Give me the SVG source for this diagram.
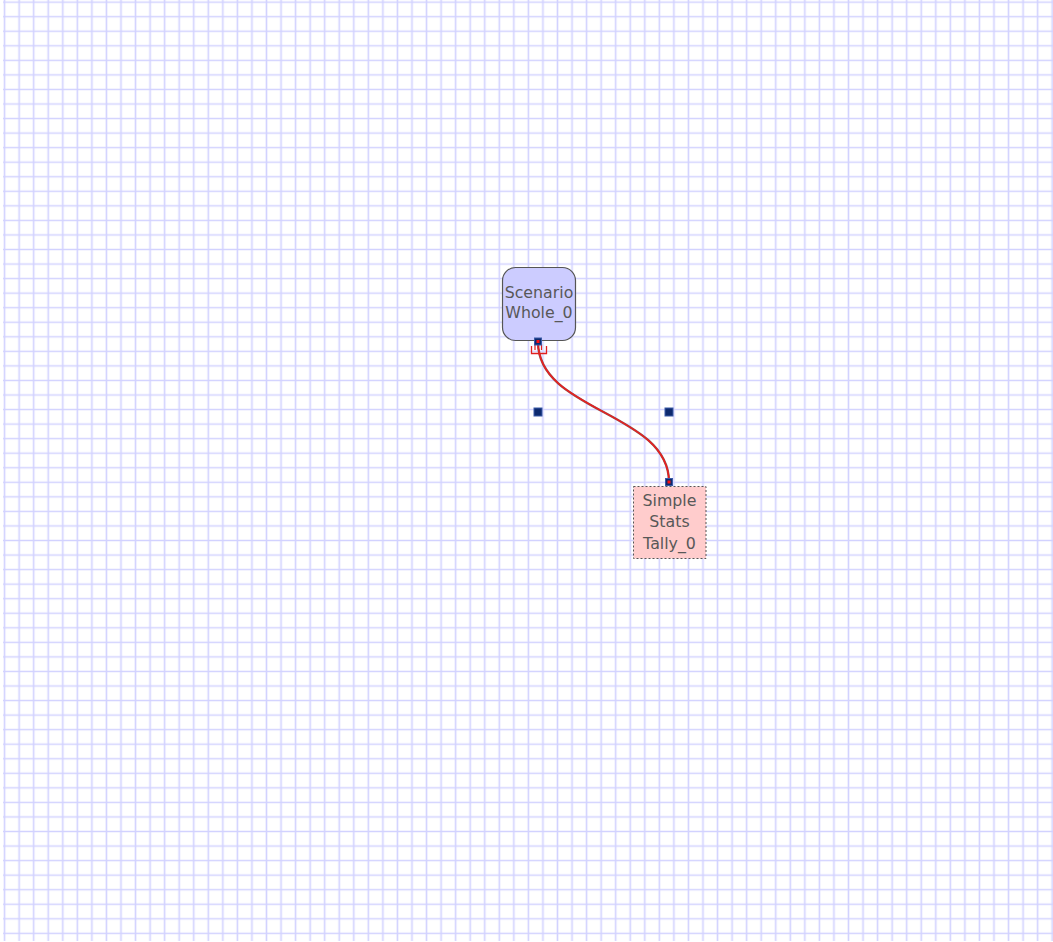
<svg xmlns="http://www.w3.org/2000/svg" width="1053" height="942" viewBox="0 0 1053 942">
<style>
.lbl{font-family:"DejaVu Sans",Verdana,sans-serif;font-size:15.8px;fill:#585858;text-anchor:middle}
.port{fill:#0d2a6e;stroke:#3a5aa8;stroke-width:1}
.dot{fill:#ff1010}
.handle{fill:#0d2a6e;stroke:#3a5aa8;stroke-width:1}
</style>
<defs>
<pattern id="grid" patternUnits="userSpaceOnUse" x="-2.675" y="-5.125" width="14.55" height="14.55">
<path d="M7.275,0 V14.55 M0,7.275 H14.55" stroke="#d2d2ff" stroke-width="1.6" fill="none"/>
</pattern>
</defs>
<rect x="0" y="0" width="1053" height="942" fill="#ffffff"/>
<rect x="3" y="0" width="1050" height="941" fill="url(#grid)"/>
<g id="connectors">
<path d="M538,342 C538,412 669,412 669,482" fill="none" stroke="#905050" stroke-width="2.4"/>
<path d="M538,342 C538,412 669,412 669,482" fill="none" stroke="#f01c1c" stroke-width="1.4"/>
<path d="M531.5,346 V353.5 H546.5 V346" fill="none" stroke="#e02020" stroke-width="1.3"/>
<path d="M535,344 V350 M541.5,344 V350" fill="none" stroke="#e02020" stroke-width="1.2"/>
<rect class="handle" x="534" y="408" width="8" height="8"/>
<rect class="handle" x="665" y="408" width="8" height="8"/>
</g>
<g id="node-scenario">
<rect x="502.5" y="267.5" width="73" height="73" rx="13" ry="13" fill="#ccccff" stroke="#555555" stroke-width="1.2"/>
<text class="lbl" x="539" y="298">Scenario</text>
<text class="lbl" x="539" y="318">Whole_0</text>
<rect class="port" x="534.5" y="338" width="7" height="7"/>
<rect class="dot" x="536.5" y="340" width="3" height="3"/>
</g>
<g id="node-tally">
<rect x="633.5" y="486.5" width="72.5" height="72" fill="#ffcccc" stroke="#555555" stroke-width="1" stroke-dasharray="2,2"/>
<text class="lbl" x="669.5" y="506">Simple</text>
<text class="lbl" x="669.5" y="527">Stats</text>
<text class="lbl" x="669.5" y="549">Tally_0</text>
<rect class="port" x="665.5" y="478.5" width="7" height="7"/>
<rect class="dot" x="667.5" y="480.5" width="3" height="3"/>
</g>
</svg>
